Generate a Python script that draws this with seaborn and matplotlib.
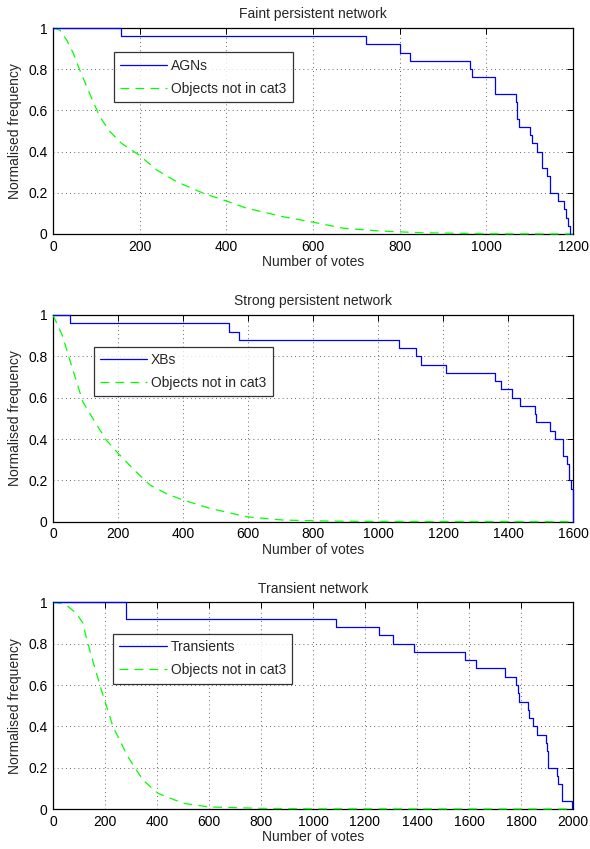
import numpy as np
import pandas as pd
import matplotlib
matplotlib.use('Agg')
import matplotlib.pyplot as plt
import seaborn as sns

# step curves (vote threshold, fraction still classified)
agn_x = [0, 158, 722, 801, 825, 962, 968, 1020, 1068, 1071, 1075, 1101, 1106, 1116, 1128, 1141, 1147, 1166, 1179, 1183, 1188, 1192]
agn_y = [1, 0.96, 0.92, 0.88, 0.84, 0.80, 0.76, 0.68, 0.64, 0.56, 0.52, 0.48, 0.44, 0.40, 0.32, 0.28, 0.20, 0.16, 0.12, 0.08, 0.04, 0]

xb_x = [0, 51, 542, 573, 1065, 1118, 1131, 1208, 1359, 1377, 1413, 1436, 1484, 1487, 1528, 1546, 1569, 1583, 1587, 1593, 1599]
xb_y = [1, 0.96, 0.92, 0.88, 0.84, 0.80, 0.76, 0.72, 0.68, 0.64, 0.60, 0.56, 0.52, 0.48, 0.44, 0.40, 0.32, 0.28, 0.20, 0.16, 0]

tr_x = [0, 280, 1087, 1254, 1308, 1389, 1586, 1626, 1737, 1780, 1787, 1793, 1825, 1829, 1846, 1863, 1895, 1900, 1904, 1938, 1943, 1957, 1959, 1998]
tr_y = [1, 0.92, 0.88, 0.84, 0.80, 0.76, 0.72, 0.68, 0.64, 0.60, 0.56, 0.52, 0.48, 0.44, 0.40, 0.36, 0.32, 0.28, 0.20, 0.16, 0.12, 0.08, 0.04, 0]

# objects not in cat3
g1_x = [0, 16, 32, 47, 61, 85, 108, 130, 158, 199, 240, 285, 347, 400, 447, 531, 601, 670, 750, 850, 1000, 1200]
g1_y = [1, 0.99, 0.94, 0.877, 0.80, 0.68, 0.57, 0.50, 0.44, 0.383, 0.31, 0.254, 0.198, 0.16, 0.125, 0.084, 0.057, 0.028, 0.015, 0.006, 0.001, 0]

g2_x = [0, 29, 62, 92, 130, 164, 201, 250, 298, 350, 400, 482, 595, 708, 850, 1000, 1600]
g2_y = [1, 0.90, 0.73, 0.58, 0.48, 0.395, 0.33, 0.25, 0.178, 0.135, 0.105, 0.065, 0.024, 0.008, 0.003, 0.001, 0]

g3_x = [0, 30, 58, 90, 115, 130, 154, 186, 231, 288, 346, 404, 500, 600, 800, 1000, 2000]
g3_y = [1, 0.995, 0.98, 0.947, 0.90, 0.82, 0.713, 0.576, 0.398, 0.253, 0.14, 0.076, 0.028, 0.01, 0.003, 0.001, 0]

titles = ['Faint persistent network', 'Strong persistent network', 'Transient network']
labels = ['AGNs', 'XBs', 'Transients']
xmaxes = [1200, 1600, 2000]

sns.set_style('white')
plt.rcParams['font.family'] = ['Liberation Sans', 'DejaVu Sans']
plt.rcParams['font.size'] = 10

fig = plt.figure(figsize=(5.9, 8.49), dpi=100)
positions = [[0.0898, 0.7244, 0.8814, 0.2426],
             [0.0898, 0.3855, 0.8814, 0.2435],
             [0.0898, 0.0471, 0.8814, 0.2434]]
legend_anchor = [(0.117, 0.882), (0.078, 0.847), (0.1155, 0.847)]

steps = [(agn_x, agn_y), (xb_x, xb_y), (tr_x, tr_y)]
others = [(g1_x, g1_y), (g2_x, g2_y), (g3_x, g3_y)]

for i in range(3):
    ax = fig.add_axes(positions[i])
    sx, sy = steps[i]
    gx, gy = others[i]
    sns.lineplot(x=sx, y=sy, ax=ax, color='blue', lw=0.9, drawstyle='steps-post',
                 estimator=None, sort=False, label=labels[i], zorder=4, clip_on=False)
    sns.lineplot(x=gx, y=gy, ax=ax, color='#00ff00', lw=0.9, linestyle=(0, (7, 5)),
                 estimator=None, sort=False, label='Objects not in cat3', zorder=3, clip_on=False)
    ax.set_xlim(0, xmaxes[i])
    ax.set_ylim(0, 1)
    ax.set_xticks(np.arange(0, xmaxes[i] + 1, 200))
    ax.set_yticks([0, 0.2, 0.4, 0.6, 0.8, 1])
    ax.set_yticklabels(['0', '0.2', '0.4', '0.6', '0.8', '1'])
    ax.grid(True, linestyle=(0, (1, 4)), color='black', lw=0.6, alpha=0.8)
    ax.tick_params(direction='in', length=4, width=0.7, top=True, right=True,
                   labelsize=10, pad=4, colors='black')
    for s in ax.spines.values():
        s.set_color('black')
        s.set_linewidth(0.9)
    ax.set_title(titles[i], fontsize=10, pad=7)
    ax.set_xlabel('Number of votes', fontsize=10, labelpad=1)
    ax.set_ylabel('Normalised frequency', fontsize=10, labelpad=4)
    leg = ax.legend(loc='upper left', bbox_to_anchor=legend_anchor[i], borderaxespad=0,
                    fontsize=10, handlelength=3.4, frameon=True, fancybox=False,
                    borderpad=0.45, labelspacing=0.65, handletextpad=0.3)
    leg.set_zorder(5)
    leg.get_frame().set_edgecolor('black')
    leg.get_frame().set_linewidth(0.9)

fig.savefig('out.png', dpi=100)
